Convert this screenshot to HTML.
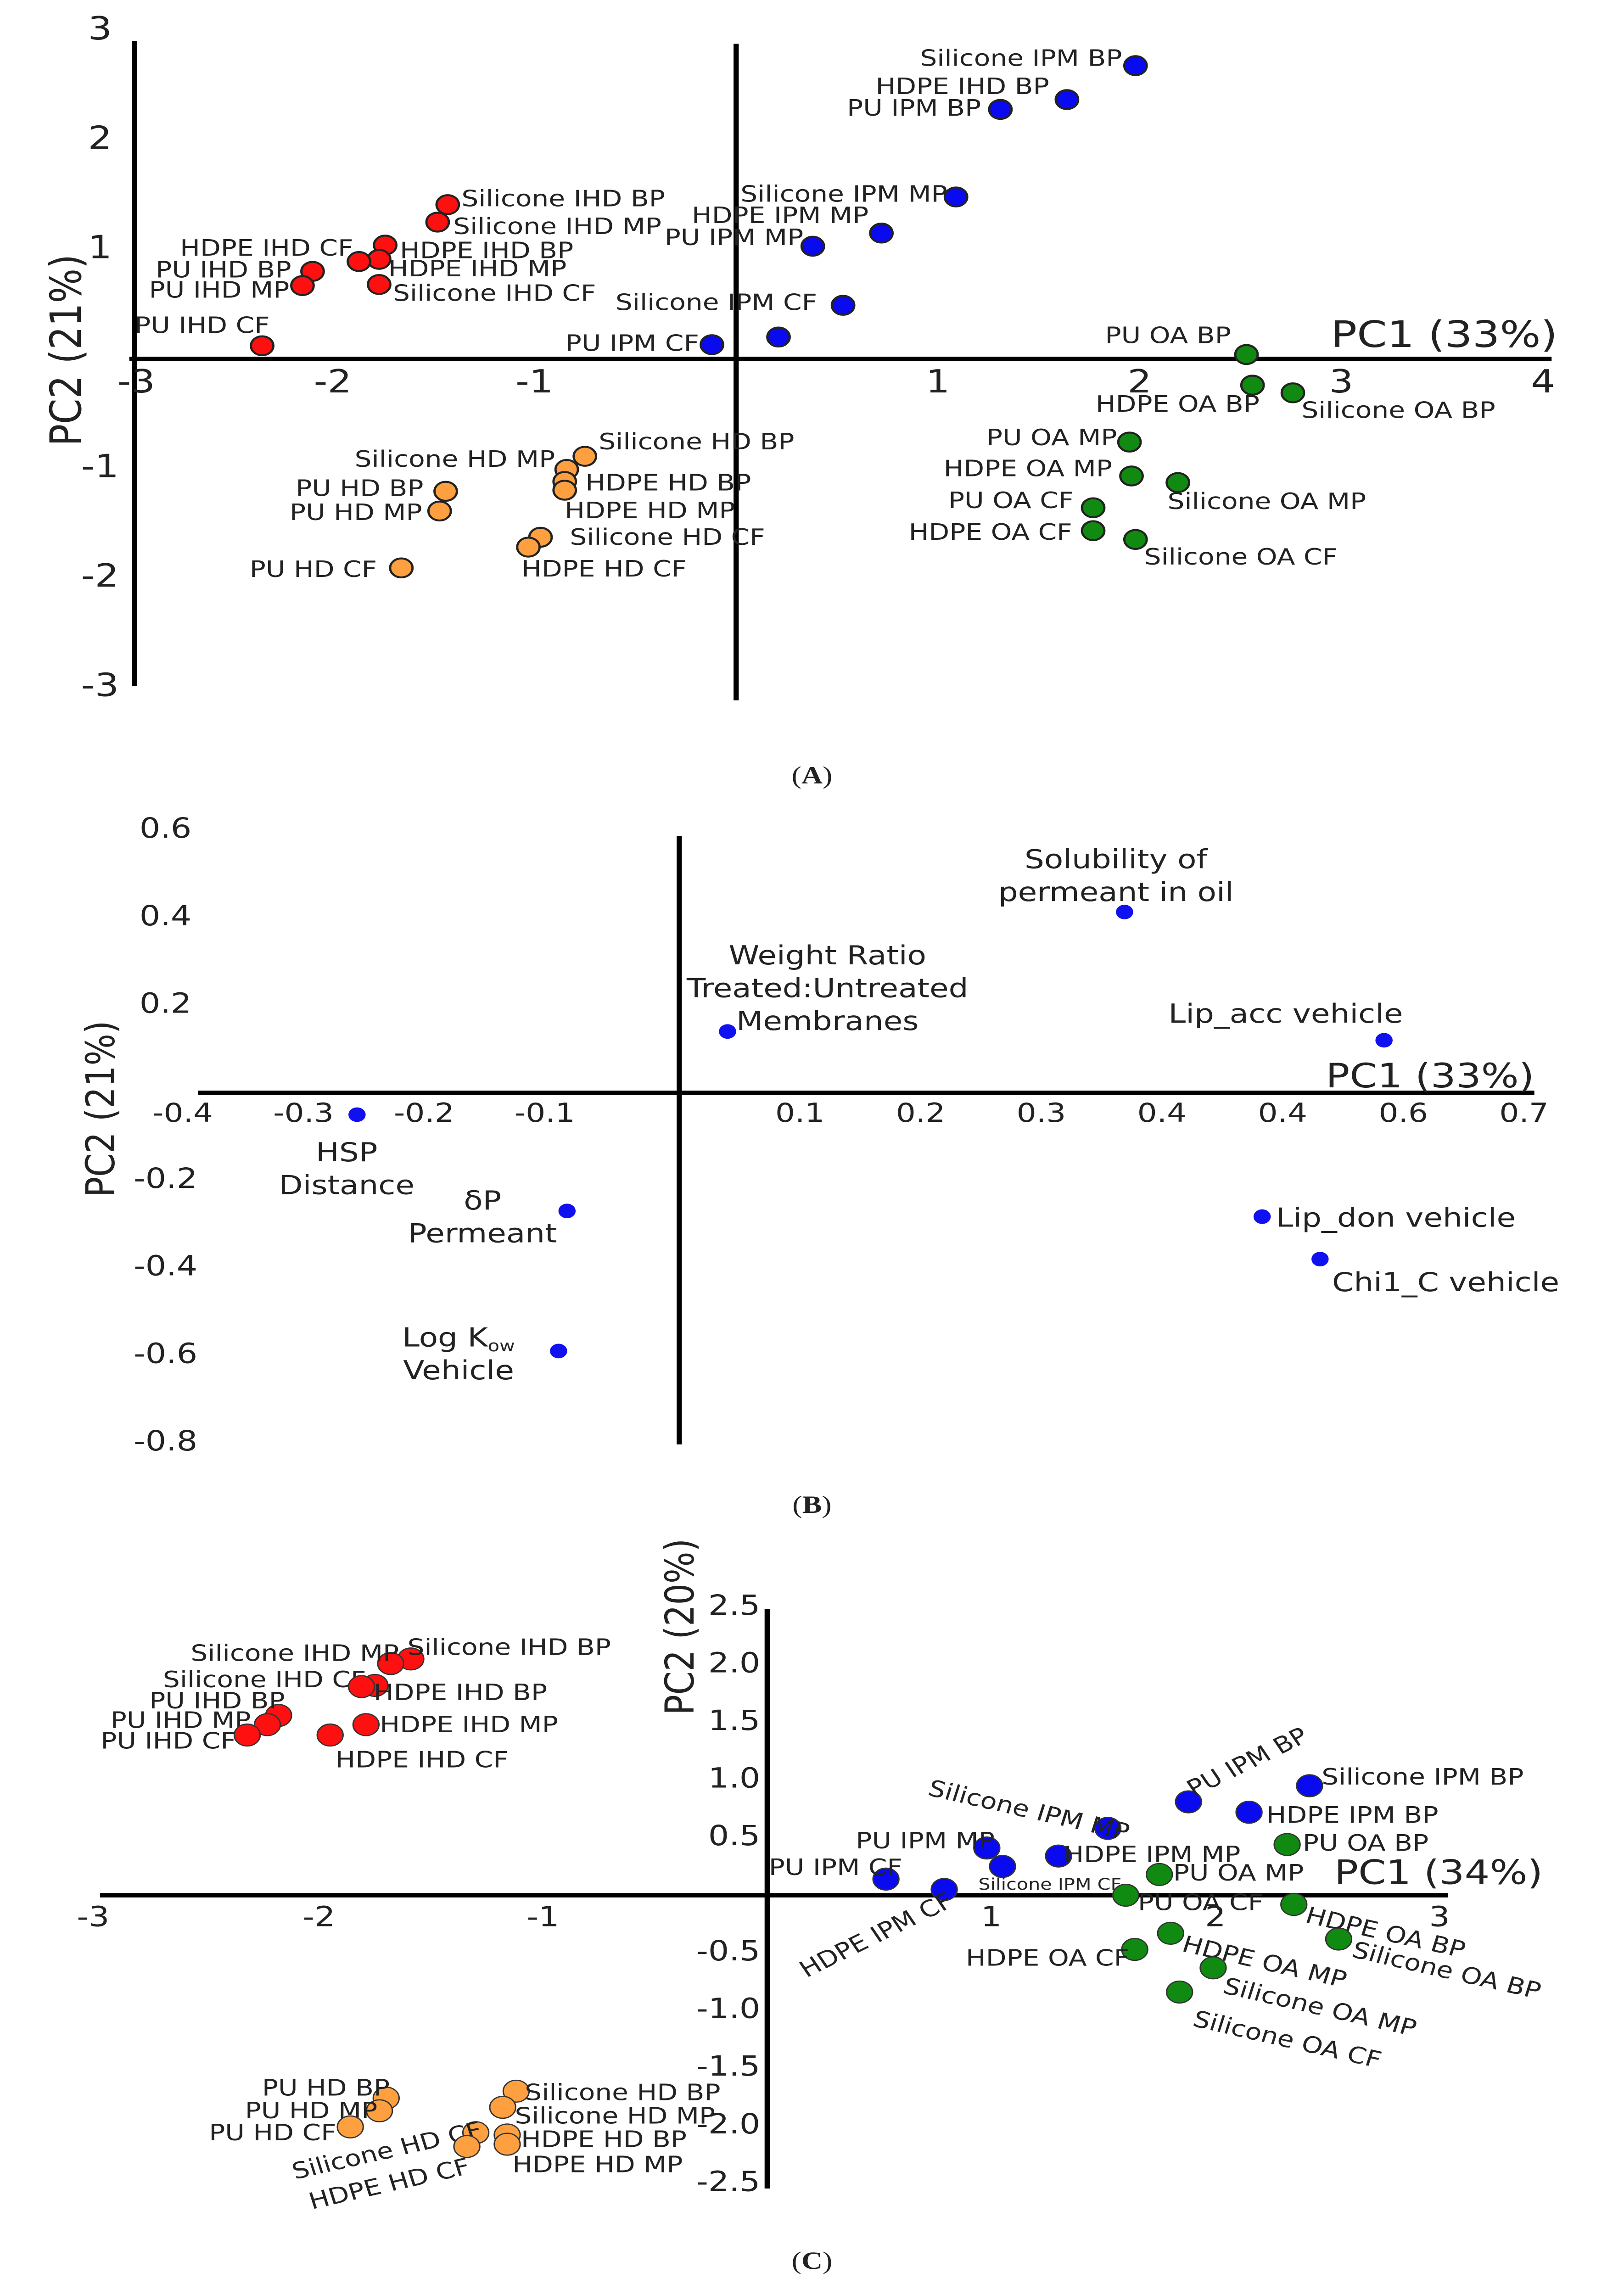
<!DOCTYPE html>
<html><head><meta charset="utf-8"><style>
html,body{margin:0;padding:0;background:#fff;width:100%;height:100%;overflow:hidden}
svg{display:block;width:100vw;height:100vh}
text{font-family:"DejaVu Sans","Liberation Sans",sans-serif;fill:#222}
</style></head><body>
<svg id="s" width="3538" height="5908" viewBox="0 0 942 1573" preserveAspectRatio="none" xmlns="http://www.w3.org/2000/svg">
<rect width="942" height="1573" fill="#fff"/>
<text x="471" y="537" text-anchor="middle" style="font-family:'Liberation Serif',serif;font-size:17px">(<tspan font-weight="bold">A</tspan>)</text>
<text x="471" y="1037" text-anchor="middle" style="font-family:'Liberation Serif',serif;font-size:17px">(<tspan font-weight="bold">B</tspan>)</text>
<text x="471" y="1555" text-anchor="middle" style="font-family:'Liberation Serif',serif;font-size:17px">(<tspan font-weight="bold">C</tspan>)</text>
</svg>
<script>
// ---------- Panel A data ----------
const aLabels=["Silicone IHD BP","Silicone IHD MP","HDPE IHD CF","HDPE IHD BP","HDPE IHD MP","PU IHD BP","PU IHD MP","Silicone IHD CF","PU IHD CF",
"Silicone IPM BP","HDPE IHD BP","PU IPM BP","Silicone IPM MP","HDPE IPM MP","PU IPM MP","Silicone IPM CF","HDPE IPM CF","PU IPM CF",
"PU OA BP","HDPE OA BP","Silicone OA BP","PU OA MP","HDPE OA MP","Silicone OA MP","PU OA CF","HDPE OA CF","Silicone OA CF",
"Silicone HD BP","Silicone HD MP","HDPE HD MP","HDPE HD BP","PU HD BP","PU HD MP","Silicone HD CF","HDPE HD CF","PU HD CF"];
const aPC1=[-1.43,-1.48,-1.74,-1.77,-1.87,-2.10,-2.15,-1.77,-2.35, 1.98,1.64,1.31,1.09,0.72,0.38,0.53,0.21,-0.12, 2.53,2.56,2.76,1.95,1.96,2.19,1.77,1.77,1.98, -0.75,-0.84,-0.85,-0.85,-1.44,-1.47,-0.97,-1.03,-1.66];
const aPC2=[1.41,1.25,1.04,0.91,0.89,0.80,0.67,0.68,0.12, 2.68,2.37,2.28,1.48,1.15,1.03,0.49,0.20,0.13, 0.04,-0.24,-0.31,-0.76,-1.07,-1.13,-1.36,-1.57,-1.65, -0.89,-1.01,-1.12,-1.20,-1.21,-1.39,-1.63,-1.72,-1.91];
const aGroup=[0,0,0,0,0,0,0,0,0,1,1,1,1,1,1,1,1,1,2,2,2,2,2,2,2,2,2,3,3,3,3,3,3,3,3,3];
const aXTicks=[-3,-2,-1,1,2,3,4];
const aYTicks=[3,2,1,-1,-2,-3];
const aOff=[[8,-3],[9,4],[-119,3],[12,-5],[17,6],[-91,0],[-89,4],[8,7],[-74,-13],
[-125,-4],[-111,-8],[-89,0],[-125,-1],[-110,-11],[-86,-5],[-132,-1],[0,0],[-85,0],
[-82,-12],[-91,14],[5,13],[-83,-2],[-109,-4],[-6,14],[-84,-4],[-107,2],[5,13],
[8,-9],[-123,-6],[0,21],[12,-4],[-87,-1],[-87,2],[17,1],[-4,16],[-88,2]];
const aShow=aLabels.map((_,i)=>i!==16);

// ---------- Panel B data ----------
const bNames=[["Solubility of","permeant in oil"],["Weight Ratio","Treated:Untreated","Membranes"],["Lip_acc vehicle"],["HSP","Distance"],["δP","Permeant"],["Lip_don vehicle"],["Chi1_C vehicle"],["Log K","Vehicle"]];
const bPC1=[0.369,0.040,0.584,-0.267,-0.093,0.483,0.531,-0.100];
const bPC2=[0.413,0.140,0.120,-0.050,-0.270,-0.283,-0.380,-0.590];
const bXTickLabels=["-0.4","-0.3","-0.2","-0.1","0.1","0.2","0.3","0.4","0.4","0.6","0.7"];
const bXTickVals=[-0.4,-0.3,-0.2,-0.1,0.1,0.2,0.3,0.4,0.5,0.6,0.7];
const bYTicks=[0.6,0.4,0.2,-0.2,-0.4,-0.6,-0.8];
const bOff=[[-5,-35],[58,-51],[-57,-17],[-6,27],[-49,-6],[8,2],[7,17],[-58,-8]];
const bAnchor=["middle","middle","middle","middle","middle","start","start","middle"];

// ---------- Panel C data ----------
const cLabels=["Silicone IHD BP","Silicone IHD MP","Silicone IHD CF","HDPE IHD BP","PU IHD BP","PU IHD MP","PU IHD CF","HDPE IHD CF","HDPE IHD MP",
"Silicone IPM BP","PU IPM BP","HDPE IPM BP","Silicone IPM MP","PU IPM MP","Silicone IPM CF","HDPE IPM MP","PU IPM CF","HDPE IPM CF",
"PU OA BP","PU OA MP","PU OA CF","HDPE OA BP","Silicone OA BP","HDPE OA CF","HDPE OA MP","Silicone OA MP","Silicone OA CF",
"Silicone HD BP","Silicone HD MP","HDPE HD BP","HDPE HD MP","Silicone HD CF","HDPE HD CF","PU HD BP","PU HD MP","PU HD CF"];
const cPC1=[-1.59,-1.68,-1.75,-1.81,-2.18,-2.23,-2.32,-1.95,-1.79, 2.42,1.88,2.15,1.52,0.98,1.05,1.30,0.53,0.79, 2.32,1.75,1.60,2.35,2.55,1.64,1.80,1.99,1.84, -1.12,-1.18,-1.16,-1.16,-1.30,-1.34,-1.70,-1.73,-1.86];
const cPC2=[2.05,2.01,1.82,1.81,1.56,1.48,1.39,1.39,1.48, 0.95,0.81,0.72,0.58,0.41,0.25,0.34,0.14,0.05, 0.44,0.18,0.00,-0.08,-0.38,-0.47,-0.33,-0.63,-0.84, -1.70,-1.84,-2.08,-2.16,-2.06,-2.18,-1.76,-1.87,-2.01];
const cGroup=[0,0,0,0,0,0,0,0,0,1,1,1,1,1,1,1,1,1,2,2,2,2,2,2,2,2,2,3,3,3,3,3,3,3,3,3];
const cXTicks=[-3,-2,-1,1,2,3];
const cYTicks=[2.5,2.0,1.5,1.0,0.5,-0.5,-1.0,-1.5,-2.0,-2.5];
const cOff=[[-2,-7],[-116,-6],[-123,-3],[7,5],[-75,-9],[-91,-2],[-85,5],[3,18],[8,1],
[7,-5],[1,-7],[10,3],[-104,-27],[-76,-4],[-14,13],[3,0],[-68,-7],[-82,57],
[9,0],[8,0],[7,6],[7,8],[8,8],[-98,7],[7,8],[6,13],[8,19],
[5,2],[7,7],[8,4],[3,15],[-106,28],[-91,39],[-72,-6],[-78,1],[-82,5]];
const cRot=[0,0,0,0,0,0,0,0,0, 0,-30,0,15,0,0,0,0,-30, 0,0,0,15,15,0,15,15,15, 0,0,0,0,-15,-15,0,0,0];

const NS="http://www.w3.org/2000/svg";
const svg=document.getElementById('s');
const fills=["#ff1010","#0a0af0","#108a10","#ffa040"];
function el(tag,attrs,parent){const e=document.createElementNS(NS,tag);for(const k in attrs)e.setAttribute(k,attrs[k]);(parent||svg).appendChild(e);return e;}
function txt(x,y,s,size,anchor,parent){const t=el('text',{x:x,y:y,'font-size':size,'text-anchor':anchor||'middle','dominant-baseline':'middle'},parent);t.textContent=s;return t;}

// ===== Panel A =====
(function(){
const g=el('g',{});


const X=v=>427+v*117, Y=v=>246-v*75;
const ax=el('line',{x1:75,y1:246,x2:900,y2:246,stroke:'#000','stroke-width':3},g);


const ay=el('line',{x1:427,y1:30,x2:427,y2:480,stroke:'#000','stroke-width':3},g);


const al=el('line',{x1:78,y1:28,x2:78,y2:470,stroke:'#000','stroke-width':3},g);


aXTicks.forEach(v=>{const t=txt(X(v)+(v===-3?3:0),263,String(v),22,'middle',g);

});
aYTicks.forEach(v=>{const t=txt(58,Y(v),String(v),22,'middle',g);

});
const t1=txt(772,231,'PC1 (33%)',25,'start',g);


const t2=txt(0,0,'PC2 (21%)',25,'middle',g);t2.setAttribute('transform','translate(40,240) rotate(-90)');


aPC1.forEach((v,i)=>{const cx=X(v),cy=Y(aPC2[i]);
const c=el('circle',{cx:cx,cy:cy,r:6.5,fill:fills[aGroup[i]],stroke:'#222','stroke-width':1.3},g);


if(aShow[i]){const t=txt(cx+aOff[i][0],cy+aOff[i][1],aLabels[i],15.5,'start',g);

}});
})();

// ===== Panel B =====
(function(){
const g=el('g',{});


const X=v=>394+v*700, Y=v=>749-v*300;
const ax=el('line',{x1:115,y1:749,x2:890,y2:749,stroke:'#000','stroke-width':3},g);


const ay=el('line',{x1:394,y1:573,x2:394,y2:990,stroke:'#000','stroke-width':3},g);


bXTickVals.forEach((v,i)=>{const t=txt(X(v)+(v<0?-8:0),764,bXTickLabels[i],18,'middle',g);

});
bYTicks.forEach(v=>{const t=txt(96,Y(v),v.toFixed(1),19,'middle',g);

});
const t1=txt(769,739,'PC1 (33%)',23,'start',g);


const t2=txt(0,0,'PC2 (21%)',23,'middle',g);t2.setAttribute('transform','translate(60,760) rotate(-90)');


bPC1.forEach((v,i)=>{const cx=X(v),cy=Y(bPC2[i]);
const c=el('circle',{cx:cx,cy:cy,r:5,fill:'#1010f0'},g);


bNames[i].forEach((line,j)=>{const t=txt(cx+bOff[i][0],cy+bOff[i][1]+j*22.5,line,18,bAnchor[i],g);
if(line==="Log K"){const s=document.createElementNS(NS,'tspan');s.setAttribute('font-size','11');s.setAttribute('dy','5');s.textContent='ow';t.appendChild(s);}

});});
})();

// ===== Panel C =====
(function(){
const g=el('g',{});


const X=v=>445+v*130, Y=v=>1299-v*79;
const ax=el('line',{x1:58,y1:1299,x2:840,y2:1299,stroke:'#000','stroke-width':3},g);


const ay=el('line',{x1:445,y1:1103,x2:445,y2:1500,stroke:'#000','stroke-width':3},g);


cXTicks.forEach(v=>{const t=txt(X(v)+(v===-3?-1:0),1315,String(v),19,'middle',g);

});
cYTicks.forEach(v=>{const t=txt(441,Y(v),v.toFixed(1),19,'end',g);

});
const t1=txt(774,1285,'PC1 (34%)',23,'start',g);


const t2=txt(0,0,'PC2 (20%)',23,'middle',g);t2.setAttribute('transform','translate(396,1115) rotate(-90)');


cPC1.forEach((v,i)=>{const cx=X(v),cy=Y(cPC2[i]);
const c=el('circle',{cx:cx,cy:cy,r:7.5,fill:fills[cGroup[i]],stroke:'#333','stroke-width':0.8},g);


const lx=cx+cOff[i][0], ly=cy+cOff[i][1];
const t=txt(lx,ly,cLabels[i],i===14?11:15.5,'start',g);
if(cRot[i])t.setAttribute('transform','rotate('+cRot[i]+' '+lx+' '+ly+')');

});
})();
</script>
</body></html>
